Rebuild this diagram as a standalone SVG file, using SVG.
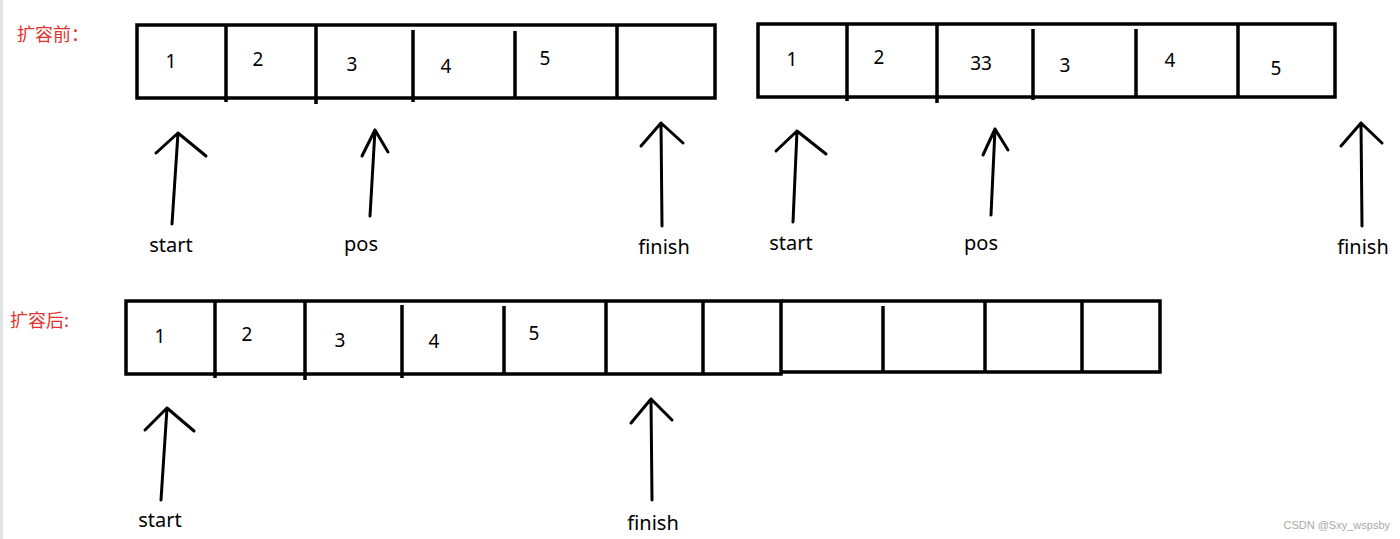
<svg xmlns="http://www.w3.org/2000/svg" width="1400" height="539" viewBox="0 0 1400 539">
<style>
.box{fill:none;stroke:#000;stroke-width:3.5}
.div{stroke:#000;stroke-width:3.5;fill:none}
.arr{stroke:#000;stroke-width:3;fill:none;stroke-linecap:round;stroke-linejoin:round}
.num{font-family:"Noto Sans","Liberation Sans",sans-serif;font-size:19px;fill:#000;text-anchor:middle}
.lbl{font-family:"Noto Sans","Liberation Sans",sans-serif;font-size:20px;fill:#000;text-anchor:middle}
.red{font-family:"Noto Sans CJK SC","Noto Sans",sans-serif;font-size:18px;fill:#e3312f}
</style>
<rect x="0" y="0" width="1400" height="539" fill="#fff"/>
<rect x="0" y="0" width="3" height="539" fill="#dfe4ea"/>

<g id="title-before"><text class="red" x="17" y="41">扩容前：</text></g>
<g id="title-after"><text class="red" x="10" y="327">扩容后:</text></g>

<g id="array-before">
<rect class="box" x="137" y="25" width="578" height="73"/>
<line class="div" x1="226" y1="25" x2="226" y2="102"/>
<line class="div" x1="316" y1="25" x2="316" y2="104"/>
<line class="div" x1="413" y1="30" x2="413" y2="102"/>
<line class="div" x1="515" y1="31" x2="515" y2="98"/>
<line class="div" x1="617" y1="25" x2="617" y2="98"/>
<text class="num" x="171" y="68">1</text>
<text class="num" x="258" y="66">2</text>
<text class="num" x="352" y="71">3</text>
<text class="num" x="446" y="73">4</text>
<text class="num" x="545" y="65">5</text>
</g>

<g id="array-insert">
<rect class="box" x="758" y="24" width="577" height="73"/>
<line class="div" x1="847" y1="24" x2="847" y2="101"/>
<line class="div" x1="937" y1="24" x2="937" y2="103"/>
<line class="div" x1="1033" y1="29" x2="1033" y2="100"/>
<line class="div" x1="1136" y1="29" x2="1136" y2="97"/>
<line class="div" x1="1238" y1="24" x2="1238" y2="97"/>
<text class="num" x="792" y="66">1</text>
<text class="num" x="879" y="64">2</text>
<text class="num" x="981" y="70">33</text>
<text class="num" x="1065" y="72">3</text>
<text class="num" x="1170" y="67">4</text>
<text class="num" x="1276" y="75">5</text>
</g>

<g id="array-after">
<rect class="box" x="126" y="301" width="655" height="73"/>
<line class="div" x1="215" y1="301" x2="215" y2="378"/>
<line class="div" x1="305" y1="301" x2="305" y2="380"/>
<line class="div" x1="402" y1="305" x2="402" y2="378"/>
<line class="div" x1="504" y1="306" x2="504" y2="374"/>
<line class="div" x1="606" y1="301" x2="606" y2="374"/>
<line class="div" x1="703" y1="301" x2="703" y2="374"/>
<path class="div" d="M781 301 H1160 V372 H781"/>
<line class="div" x1="883" y1="306" x2="883" y2="372"/>
<line class="div" x1="985" y1="301" x2="985" y2="372"/>
<line class="div" x1="1082" y1="301" x2="1082" y2="372"/>
<text class="num" x="160" y="343">1</text>
<text class="num" x="247" y="341">2</text>
<text class="num" x="340" y="347">3</text>
<text class="num" x="434" y="348">4</text>
<text class="num" x="534" y="340">5</text>
</g>

<g id="connectors">
<path class="arr" d="M172 224 L178 133 M156 153 L178 133 L206 156"/>
<path class="arr" d="M370 216 L375 130 M362 156 L375 130 L388 152"/>
<path class="arr" d="M662 226 L661 123 M641 146 L661 123 L683 143"/>
<path class="arr" d="M793 222 L797 131 M776 151 L797 131 L826 154"/>
<path class="arr" d="M991 215 L995 129 M983 155 L995 129 L1008 150"/>
<path class="arr" d="M1362 226 L1361 123 M1341 146 L1361 123 L1382 143"/>
<path class="arr" d="M161 500 L167 408 M145 430 L167 408 L194 431"/>
<path class="arr" d="M652 500 L651 399 M631 423 L651 399 L672 420"/>
</g>

<g id="labels">
<text class="lbl" x="171" y="252">start</text>
<text class="lbl" x="361" y="251">pos</text>
<text class="lbl" x="664" y="254">finish</text>
<text class="lbl" x="791" y="250">start</text>
<text class="lbl" x="981" y="250">pos</text>
<text class="lbl" x="1363" y="254">finish</text>
<text class="lbl" x="160" y="527">start</text>
<text class="lbl" x="653" y="530">finish</text>
</g>

<text x="1390" y="529" font-family="'Liberation Sans',sans-serif" font-size="11" fill="#a8a8a8" text-anchor="end">CSDN @Sxy_wspsby</text>
</svg>
